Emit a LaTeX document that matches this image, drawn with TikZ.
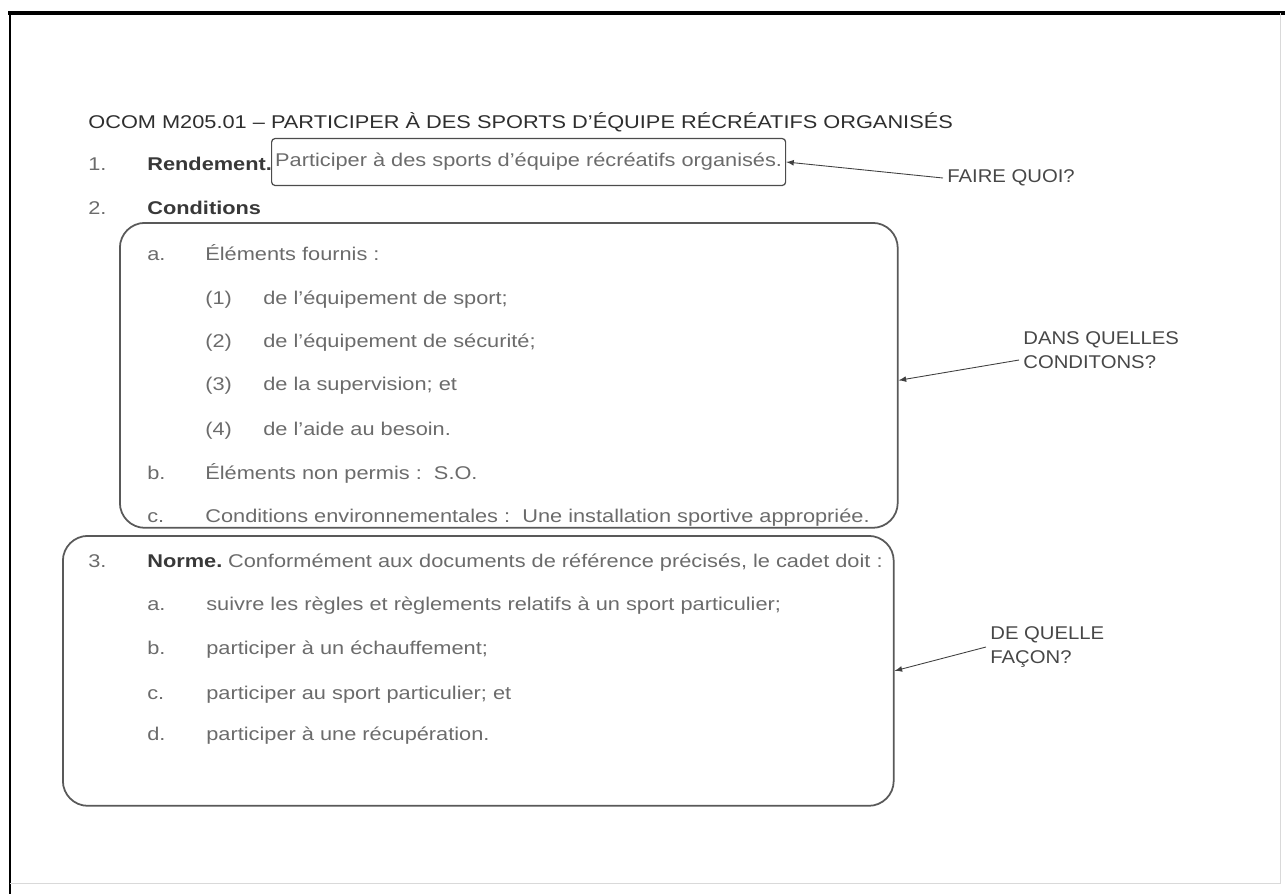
\documentclass[tikz,border=0pt]{standalone}
\usepackage{fontspec}
\setmainfont[FakeStretch=1.18]{Liberation Sans}
\newfontfamily\lblfont[FakeStretch=1.1]{Liberation Sans}
\newcommand\docfont{\fontsize{10.5}{13.6}\selectfont}
\begin{document}
\begin{tikzpicture}[x=0.02cm,y=-0.02cm,
	txt/.style={anchor=base west,inner sep=0,text=black!58,font=\docfont},
	hd/.style={anchor=base west,inner sep=0,text=black!78,font=\docfont\bfseries},
	lbl/.style={anchor=west,inner sep=0.08cm,text=black!72,align=left,font=\lblfont\docfont},
	box/.style={draw=black!65,line width=1pt,rounded corners=0.5cm,anchor=north west,inner sep=0},
	arr/.style={-latex,draw=black!75,line width=0.5pt}]
	\useasboundingbox (0,0) rectangle (1285,894);
	% frame
	\draw[line width=0.08cm] (8,13) -- (1285,13);
	\draw[line width=0.06cm] (10,13) -- (10,894);
	\draw[black!15] (10,883) -- (1280,883) -- (1280,13);
	% title
	\node [txt,text=black!82] (title) at (88,128) {OCOM M205.01 -- PARTICIPER À DES SPORTS D'ÉQUIPE RÉCRÉATIFS ORGANISÉS};
	% 1. rendement
	\node [txt] (n1) at (88,170) {1.};
	\node [hd] (rend) at (147,170) {Rendement.};
	\node [draw=black!70,rounded corners=2pt,line width=0.7pt,text=black!58,font=\docfont,
		anchor=west,inner xsep=2pt,minimum height=0.94cm] (perf) at (271,162)
		{Participer à des sports d'équipe récréatifs organisés.};
	\node [lbl] (faire) at (943,178) {FAIRE QUOI?};
	\draw[arr] (faire.west) -- (perf.east);
	% 2. conditions
	\node [txt] (n2) at (88,214) {2.};
	\node [hd] (condh) at (147,214) {Conditions};
	\node [box,minimum width=15.56cm,minimum height=6.1cm] (cond) at (119,222) {};
	\node [txt] (ca) at (147,260) {a.};
	\node [txt] (cat) at (205,260) {Éléments fournis :};
	\foreach \i/\y/\t in {1/304/{de l'équipement de sport;},2/347/{de l'équipement de sécurité;},
		3/390/{de la supervision; et},4/435/{de l'aide au besoin.}}
	{
		\node [txt] (c\i) at (205,\y) {(\i)};
		\node [txt] (c\i t) at (263,\y) {\t};
	}
	\node [txt] (cb) at (147,479) {b.};
	\node [txt] (cbt) at (205,479) {Éléments non permis :\ \ S.O.};
	\node [txt] (cc) at (147,522) {c.};
	\node [txt] (cct) at (205,522) {Conditions environnementales :\ \ Une installation sportive appropriée.};
	\node [lbl] (dans) at (1019,350) {DANS QUELLES\\CONDITONS?};
	\draw[arr] ([yshift=-0.2cm]dans.west) -- ([yshift=-0.1cm]cond.east);
	% 3. norme
	\node [box,minimum width=16.62cm,minimum height=5.4cm] (norm) at (62,535) {};
	\node [txt] (n3) at (88,567) {3.};
	\node [hd] (normh) at (147,567) {Norme.};
	\node [txt,xshift=0.1cm] (normt) at (normh.base east) {Conformément aux documents de référence précisés, le cadet doit :};
	\foreach \l/\y/\t in {a/610/{suivre les règles et règlements relatifs à un sport particulier;},
		b/654/{participer à un échauffement;},c/699/{participer au sport particulier; et},
		d/740/{participer à une récupération.}}
	{
		\node [txt] (s\l) at (147,\y) {\l.};
		\node [txt] (s\l t) at (206,\y) {\t};
	}
	\node [lbl] (deq) at (986,647) {DE QUELLE\\FAÇON?};
	\draw[arr] (deq.west) -- (norm.east);
\end{tikzpicture}
\end{document}
